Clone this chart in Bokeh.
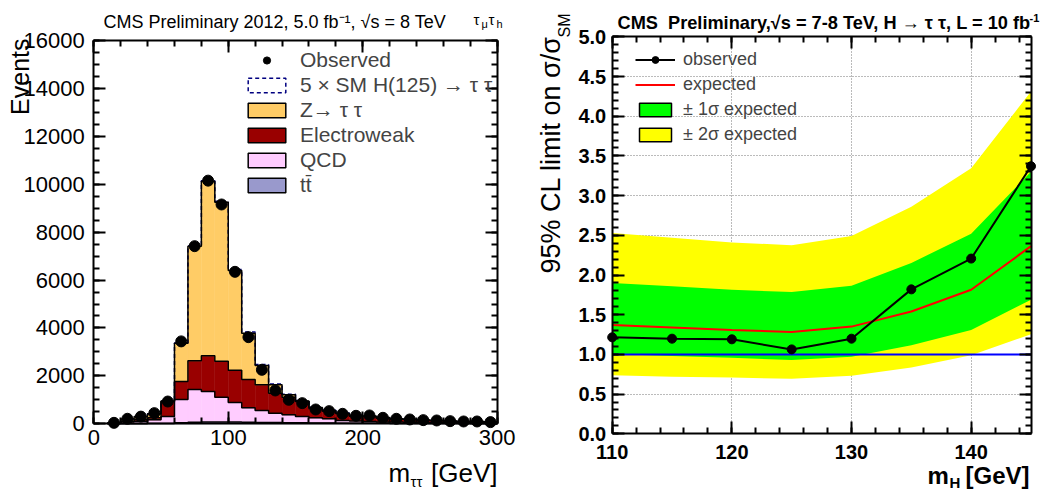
import numpy as np
from bokeh.plotting import figure
from bokeh.models import (Range1d, LinearAxis, SingleIntervalTicker, Label, Legend,
                          LegendItem, PrintfTickFormatter, Grid)
from bokeh.embed import file_html
from bokeh.resources import INLINE

FONT = "Liberation Sans"

# ---------------- left panel data (m_tautau histogram, 10 GeV bins) ----------------
bin_centers = [15, 25, 35, 45, 55, 65, 75, 85, 95, 105, 115, 125, 135, 145, 155,
               165, 175, 185, 195, 205, 215, 225, 235, 245, 255, 265, 275, 285, 295]
bin_width = 10
observed = [40, 210, 300, 445, 930, 3440, 7415, 10150, 9155, 6344, 3617, 2254, 1391, 1002, 862,
            598, 529, 417, 334, 348, 250, 209, 181, 153, 139, 111, 97, 97, 70]
ttbar = [2, 4, 6, 8, 12, 45, 65, 75, 75, 70, 60, 55, 50, 45, 40,
         35, 30, 25, 22, 20, 18, 16, 14, 12, 10, 9, 8, 7, 6]
qcd = [8, 66, 91, 159, 294, 971, 1368, 1275, 1038, 820, 608, 501, 395, 330, 266,
       215, 179, 114, 98, 80, 62, 54, 46, 38, 35, 31, 27, 23, 19]
electroweak = [10, 40, 70, 83, 624, 751, 1197, 1488, 1503, 1350, 1182, 1072, 835, 738, 626,
               376, 311, 278, 200, 200, 150, 130, 115, 100, 90, 70, 60, 65, 45]
ztautau = [5, 90, 133, 170, 20, 1600, 4785, 7282, 6636, 4160, 1934, 807, 348, 97, 18,
           54, 40, 23, 30, 30, 30, 15, 10, 10, 5, 5, 5, 3, 5]
signal_5xsm = [0, 0, 1, 2, 4, 8, 15, 25, 35, 45, 50, 45, 35, 25, 18,
               12, 8, 6, 4, 3, 2, 2, 1, 1, 1, 1, 0, 0, 0]
left_xlim = (0, 300)
left_ylim = (0, 16000)

# ---------------- right panel data (limits) ----------------
mass = [110, 115, 120, 125, 130, 135, 140, 145]
obs_limit = [1.215, 1.198, 1.19, 1.063, 1.198, 1.819, 2.207, 3.37]
exp_limit = [1.371, 1.34, 1.308, 1.283, 1.35, 1.54, 1.814, 2.363]
exp_p1 = [1.899, 1.857, 1.814, 1.785, 1.865, 2.152, 2.519, 3.30]
exp_m1 = [1.004, 0.98, 0.958, 0.928, 0.97, 1.114, 1.308, 1.688]
exp_p2 = [2.53, 2.47, 2.41, 2.375, 2.49, 2.86, 3.346, 4.31]
exp_m2 = [0.738, 0.72, 0.709, 0.692, 0.73, 0.835, 0.99, 1.253]
sm_line = [1.0] * len(mass)
right_xlim = (110, 145)
right_ylim = (0, 5)

# ---------------- layout: panel boxes in canvas pixels (left, right, top, bottom) ----------------
W, H = 1040, 491
LBOX = (93.3, 496.7, 40.0, 423.3)
RBOX = (611.7, 1030.5, 36.3, 433.3)


def ranges_for(box, xlim, ylim):
    l, r, t, b = box
    kx = (r - l) / (xlim[1] - xlim[0])
    ky = (b - t) / (ylim[1] - ylim[0])
    xr = Range1d(xlim[0] - l / kx, xlim[0] + (W - l) / kx)
    yr = Range1d(ylim[0] - (H - b) / ky, ylim[0] + b / ky)
    return xr, yr


p = figure(width=W, height=H, x_range=Range1d(0, W), y_range=Range1d(H, 0),
           output_backend="svg", toolbar_location=None, min_border=0,
           x_axis_location=None, y_axis_location=None, outline_line_color=None)
p.grid.visible = False
lxr, lyr = ranges_for(LBOX, left_xlim, left_ylim)
rxr, ryr = ranges_for(RBOX, right_xlim, right_ylim)
p.extra_x_ranges = {"lx": lxr, "rx": rxr}
p.extra_y_ranges = {"ly": lyr, "ry": ryr}


def add_axis(side, xname, yname, fixed, bounds, ticker, size=None, bold=False, standoff=6,
             formatter=None):
    ax = LinearAxis(x_range_name=xname, y_range_name=yname, fixed_location=fixed,
                    bounds=bounds, ticker=ticker)
    ax.major_tick_in = 12
    ax.major_tick_out = 0
    ax.minor_tick_in = 6
    ax.minor_tick_out = 0
    ax.axis_line_width = 2
    ax.axis_line_color = "black"
    ax.major_tick_line_width = 2
    ax.minor_tick_line_width = 2
    ax.major_label_text_font = FONT
    ax.major_label_text_font_style = "bold" if bold else "normal"
    if formatter is not None:
        ax.formatter = formatter
    if size is None:
        # tick marks only (mirror axis), no labels drawn
        ax.major_label_text_color = None
        ax.major_label_text_font_size = "1px"
        ax.major_label_standoff = 0
    else:
        ax.major_label_text_color = "black"
        ax.major_label_text_font_size = size
        ax.major_label_standoff = standoff
    p.add_layout(ax, side)
    return ax


# ======================= LEFT PANEL =======================
xt1 = SingleIntervalTicker(interval=100, num_minor_ticks=5)
yt1 = SingleIntervalTicker(interval=2000, num_minor_ticks=4)

c = np.array(bin_centers, dtype=float)
layers = [(ttbar, "#9999CC"), (qcd, "#FFCCFF"), (electroweak, "#990000"), (ztautau, "#FFCC66")]
cum = np.zeros(len(c))
edges = np.concatenate([[c[0] - bin_width / 2], c + bin_width / 2])
tops = []
for vals, col in layers:
    v = np.array(vals, dtype=float)
    p.quad(left=c - bin_width / 2, right=c + bin_width / 2, bottom=cum, top=cum + v,
           fill_color=col, line_color=col, line_width=0.5, x_range_name="lx", y_range_name="ly")
    cum = cum + v
    tops.append(cum.copy())

sig_top = cum + np.array(signal_5xsm, dtype=float)
step_x = np.concatenate([[edges[0]], edges])
p.step(x=step_x, y=np.concatenate([[0], sig_top, [sig_top[-1]]]), mode="after",
       line_color="#000080", line_width=1.5, line_dash="4 3", x_range_name="lx", y_range_name="ly")
for t in tops:
    p.step(x=step_x, y=np.concatenate([[0], t, [t[-1]]]), mode="after",
           line_color="black", line_width=1.5, x_range_name="lx", y_range_name="ly")

obs_r = p.scatter(x=c, y=observed, size=11, color="black", x_range_name="lx", y_range_name="ly")

add_axis("below", "lx", "ly", left_ylim[0], left_xlim, xt1, "22px", standoff=6)
add_axis("above", "lx", "ly", left_ylim[1], left_xlim, xt1)
add_axis("left", "lx", "ly", left_xlim[0], left_ylim, yt1, "22px", standoff=9)
add_axis("right", "lx", "ly", left_xlim[1], left_ylim, yt1)


def proxy(col, dash="solid", line="black"):
    return p.quad(left=[-5000], right=[-4000], bottom=[-5000], top=[-4000], fill_color=col,
                  line_color=line, line_width=1.5, line_dash=dash)


sig_proxy = proxy("white", dash="4 3", line="#000080")
z_proxy = proxy("#FFCC66")
ew_proxy = proxy("#990000")
qcd_proxy = proxy("#FFCCFF")
tt_proxy = proxy("#9999CC")

# legend location = bottom-left corner, measured from canvas bottom-left
leg1 = Legend(items=[
    LegendItem(label="Observed", renderers=[obs_r]),
    LegendItem(label="5 × SM H(125) → τ τ", renderers=[sig_proxy]),
    LegendItem(label="Z→ τ τ", renderers=[z_proxy]),
    LegendItem(label="Electroweak", renderers=[ew_proxy]),
    LegendItem(label="QCD", renderers=[qcd_proxy]),
    LegendItem(label="tt̄", renderers=[tt_proxy]),
], location=(243, H - 197))
leg1.border_line_color = None
leg1.background_fill_alpha = 0
leg1.padding = 0
leg1.margin = 0
leg1.spacing = 0
leg1.glyph_width = 47
leg1.glyph_height = 18
leg1.label_height = 25
leg1.label_standoff = 10
leg1.label_text_font = FONT
leg1.label_text_font_size = "21px"
p.add_layout(leg1)

# ======================= RIGHT PANEL =======================
xt2 = SingleIntervalTicker(interval=10, num_minor_ticks=5)
yt2 = SingleIntervalTicker(interval=0.5, num_minor_ticks=5)

if "cross_bounds" in Grid.properties():
    for dim, tk, bnd, cb in [(0, xt2, right_xlim, right_ylim), (1, yt2, right_ylim, right_xlim)]:
        g = Grid(dimension=dim, ticker=tk, x_range_name="rx", y_range_name="ry",
                 bounds=bnd, cross_bounds=cb, grid_line_color="#777777",
                 grid_line_dash="1 2", grid_line_width=1)
        p.add_layout(g)
else:
    gx = np.arange(right_xlim[0], right_xlim[1] + 1e-9, 10)
    gy = np.arange(right_ylim[0], right_ylim[1] + 1e-9, 0.5)
    p.segment(x0=gx, x1=gx, y0=right_ylim[0], y1=right_ylim[1], line_color="#777777",
              line_dash="1 2", x_range_name="rx", y_range_name="ry")
    p.segment(x0=right_xlim[0], x1=right_xlim[1], y0=gy, y1=gy, line_color="#777777",
              line_dash="1 2", x_range_name="rx", y_range_name="ry")

p.varea(x=mass, y1=exp_m2, y2=exp_p2, fill_color="#FFFF00", x_range_name="rx", y_range_name="ry")
p.varea(x=mass, y1=exp_m1, y2=exp_p1, fill_color="#00FF00", x_range_name="rx", y_range_name="ry")
p.line(x=mass, y=sm_line, line_color="#0000FF", line_width=2, x_range_name="rx", y_range_name="ry")
exp_r = p.line(x=mass, y=exp_limit, line_color="#FF0000", line_width=2,
               x_range_name="rx", y_range_name="ry")
obs_line = p.line(x=mass, y=obs_limit, line_color="black", line_width=2,
                  x_range_name="rx", y_range_name="ry")
obs_pts = p.scatter(x=mass, y=obs_limit, size=9, color="black",
                    x_range_name="rx", y_range_name="ry")

add_axis("below", "rx", "ry", right_ylim[0], right_xlim, xt2, "20px", bold=True, standoff=11)
add_axis("above", "rx", "ry", right_ylim[1], right_xlim, xt2)
add_axis("left", "rx", "ry", right_xlim[0], right_ylim, yt2, "20px", bold=True, standoff=6,
         formatter=PrintfTickFormatter(format="%.1f"))
add_axis("right", "rx", "ry", right_xlim[1], right_ylim, yt2)

g1_proxy = proxy("#00FF00")
g2_proxy = proxy("#FFFF00")

leg2 = Legend(items=[
    LegendItem(label="observed", renderers=[obs_line, obs_pts]),
    LegendItem(label="expected", renderers=[exp_r]),
    LegendItem(label="± 1σ expected", renderers=[g1_proxy]),
    LegendItem(label="± 2σ expected", renderers=[g2_proxy]),
], location=(635, H - 147))
leg2.border_line_color = None
leg2.background_fill_alpha = 0
leg2.padding = 0
leg2.margin = 0
leg2.spacing = 0
leg2.glyph_width = 40
leg2.glyph_height = 17
leg2.label_height = 25
leg2.label_standoff = 8
leg2.label_text_font = FONT
leg2.label_text_font_size = "18px"
p.add_layout(leg2)


# ======================= TEXTS (canvas pixel coordinates, y down, anchored at middle) =======================
def lab(x, y, text, size, bold=False, align="left", angle=0):
    p.add_layout(Label(x=x, y=y, text=text, text_font=FONT, text_font_size=size,
                       text_font_style="bold" if bold else "normal",
                       text_align=align, text_baseline="middle",
                       angle=angle, angle_units="deg", text_color="black"))


lab(103, 21.2, "CMS Preliminary 2012, 5.0 fb⁻¹, √s = 8 TeV", "18px")
lab(473, 18.8, "τ", "15px")
lab(481, 23.7, "μ", "11px")
lab(488, 18.8, "τ", "15px")
lab(496, 23.7, "h", "11px")
lab(19.3, 38, "Events", "25px", align="right", angle=90)
lab(388, 472.9, "m", "26px")
lab(410, 480.8, "ττ", "15px")
lab(497, 472.9, "[GeV]", "26px", align="right")

lab(617, 22.5, "CMS\u00a0 Preliminary,√s = 7-8 TeV, H → τ τ, L = 10 fb", "18.2px", bold=True)
lab(1029, 17.2, "-1", "11px", bold=True)
lab(550.5, 273, "95% CL limit on σ/σ", "27px", angle=90)
lab(564.4, 37, "SM", "16px", angle=90)
lab(927, 474.6, "m", "24px", bold=True)
lab(949, 481.8, "H", "15px", bold=True)
lab(1029, 474.6, "[GeV]", "24px", bold=True, align="right")

open("out.html", "w").write(file_html(p, INLINE))
